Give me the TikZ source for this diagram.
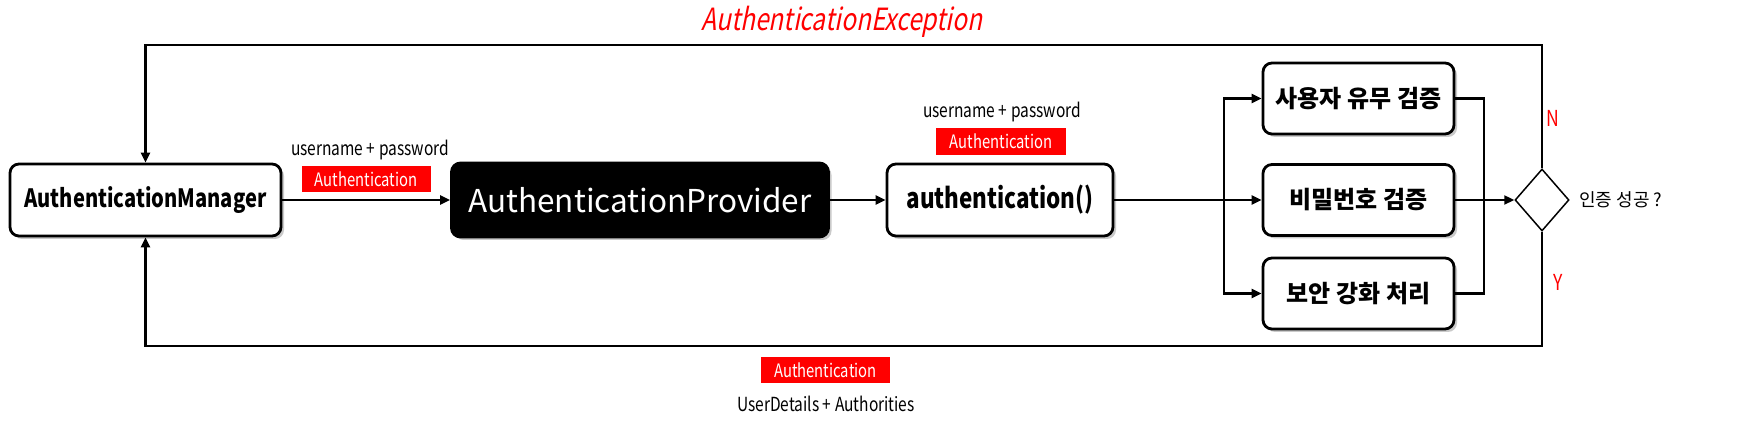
\documentclass[tikz,border=0pt]{standalone}
\usepackage{fontspec}
\setmainfont{Noto Sans CJK KR}
\newfontfamily\narrowfont[FakeStretch=0.8]{Noto Sans CJK KR}
\newfontfamily\narrowslant[FakeStretch=0.8,FakeSlant=0.2]{Noto Sans CJK KR}
\usepackage{tikz}
\usetikzlibrary{arrows.meta,shapes.geometric,shadows}

\tikzset{
  flowbox/.style={draw=black, line width=2.8pt, rounded corners=9pt, fill=white,
    inner sep=0pt, font=\narrowfont\fontsize{25.2}{28}\selectfont\bfseries,
    drop shadow={shadow xshift=3pt, shadow yshift=-3pt, fill=black!35, opacity=.6}},
  checkbox/.style={flowbox, minimum width=191pt, minimum height=71pt,
    font=\fontsize{24}{27}\selectfont\bfseries},
  tagbox/.style={fill=red, text=white, inner sep=0pt, minimum width=129pt,
    minimum height=26pt, font=\narrowfont\fontsize{18.5}{20}\selectfont},
  smalltext/.style={font=\narrowfont\fontsize{19.4}{21}\selectfont},
  redmark/.style={text=red, font=\narrowfont\fontsize{22}{24}\selectfont},
  link/.style={line width=2.2pt},
  arr/.style={link, -{Triangle[length=10pt,width=9pt]}}
}

\begin{document}
\begin{tikzpicture}[x=1pt,y=1pt]
    \useasboundingbox (0,0) rectangle (1744,433);
    % main boxes
    \node[flowbox, minimum width=271pt, minimum height=72pt] (mgr) at (145.5,233) {AuthenticationManager};
    \node[flowbox, fill=black, text=white, minimum width=377pt, minimum height=74pt,
        font=\fontsize{31.5}{34}\selectfont] (prov) at (640,233) {AuthenticationProvider};
    \node[flowbox, minimum width=226pt, minimum height=72pt, font=\narrowfont\fontsize{28}{30}\selectfont\bfseries] (auth) at (1000,233) {authentication()};
    % checks
    \node[checkbox] (chkuser) at (1358.5,334.5) {사용자 유무 검증};
    \node[checkbox] (chkpass) at (1358.5,233) {비밀번호 검증};
    \node[checkbox] (chksec) at (1358.5,139.5) {보안 강화 처리};
    \node[diamond, draw=black, line width=1.5pt, inner sep=0pt, minimum width=54pt, minimum height=62pt] (dec) at (1542,233) {};
    \node[font=\fontsize{18}{20}\selectfont, anchor=west] (declbl) at ([xshift=6pt]dec.east) {인증 성공 ?};
    % labels
    \node[smalltext] (lblin) at (370,283) {username + password};
    \node[tagbox] (tagin) at (366,254) {Authentication};
    \node[smalltext] (lblauth) at (1002,321) {username + password};
    \node[tagbox, minimum width=130pt, minimum height=27pt] (tagauth) at (1001,291.5) {Authentication};
    \node[tagbox] (tagout) at (825.5,63) {Authentication};
    \node[smalltext] (lblout) at (826,29) {UserDetails + Authorities};
    \node[text=red, font=\narrowslant\fontsize{30.6}{33}\selectfont] (exc) at (842,411) {AuthenticationException};
    \node[redmark] (no) at (1553,315) {N};
    \node[redmark] (yes) at (1558,151) {Y};
    % connectors
    \coordinate (split) at (1224,233);
    \coordinate (join) at (1484,233);
    \coordinate (topr) at (1542,388);
    \coordinate (topl) at (145.5,388);
    \coordinate (botr) at (1542,87);
    \coordinate (botl) at (145.5,87);
    \draw[arr] (mgr) -- (prov);
    \draw[arr] (prov) -- (auth);
    \draw[arr] (auth.east) -- (chkpass.west);
    \draw[arr] (split) |- (chkuser.west);
    \draw[arr] (split) |- (chksec.west);
    \draw[link] (chkuser.east) -| (join);
    \draw[link] (chksec.east) -| (join);
    \draw[arr] (chkpass.east) -- (dec.west);
    \draw[arr] (dec.north) -- (topr) -- (topl) -- (mgr.north);
    \draw[arr] (dec.south) -- (botr) -- (botl) -- (mgr.south);
\end{tikzpicture}
\end{document}
